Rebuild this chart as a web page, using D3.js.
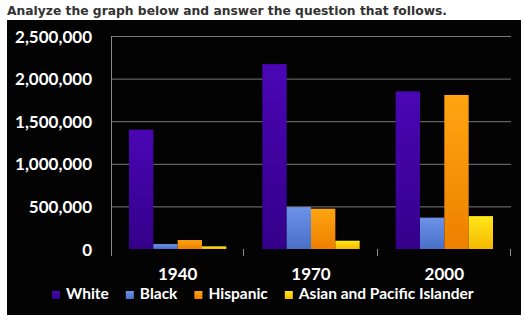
<!DOCTYPE html>
<html>
<head>
<meta charset="utf-8">
<script src="https://cdn.jsdelivr.net/npm/d3@7"></script>
<style>
  html, body { margin: 0; padding: 0; background: #fff; }
  svg { display: block; }
</style>
</head>
<body>
<div id="chart"></div>
<script>
const title = "Analyze the graph below and answer the question that follows.";
const categories = ["1940", "1970", "2000"];
const series = ["White", "Black", "Hispanic", "Asian and Pacific Islander"];
const white = [1400000, 2170000, 1850000];
const black = [58000, 492000, 368000];
const hispanic = [105000, 473000, 1808000];
const asian = [31000, 97000, 386000];
const yTicks = [0, 500000, 1000000, 1500000, 2000000, 2500000];

const values = [white, black, hispanic, asian];
const colors = {
    "White": ["#4a06b4", "#34008a"],
    "Black": ["#6c92ea", "#4a6fc6"],
    "Hispanic": ["#ffa511", "#ee8000"],
    "Asian and Pacific Islander": ["#ffe81a", "#f5b800"]
};

const W = 526, H = 324;
const plot = {left: 111, right: 511, top: 36, bottom: 249};

const svg = d3.select("#chart")
    .append("svg")
    .attr("width", W)
    .attr("height", H);

// gradients for the bars
const defs = svg.append("defs");
series.forEach((s, i) => {
    const g = defs.append("linearGradient")
        .attr("id", "grad" + i)
        .attr("x1", 0).attr("y1", 0).attr("x2", 0).attr("y2", 1);
    g.append("stop").attr("offset", "0%").attr("stop-color", colors[s][0]);
    g.append("stop").attr("offset", "100%").attr("stop-color", colors[s][1]);
});

svg.append("text")
    .attr("x", 7)
    .attr("y", 15)
    .attr("fill", "#333")
    .style("font", "bold 12.3px 'DejaVu Sans', sans-serif")
    .text(title);

svg.append("rect")
    .attr("x", 7).attr("y", 20)
    .attr("width", 514).attr("height", 295)
    .attr("fill", "#030303");

const x = d3.scaleBand()
    .domain(categories)
    .range([plot.left, plot.right]);

const x1 = d3.scaleBand()
    .domain(series)
    .range([0, x.bandwidth()])
    .paddingOuter(0.74);

const y = d3.scaleLinear()
    .domain([0, 2500000])
    .range([plot.bottom, plot.top]);

const fontStyle = "bold 17px Lato, 'Open Sans', sans-serif";
const legendFont = "bold 15.5px Lato, 'Open Sans', sans-serif";

// y axis with gridlines
const yAxis = svg.append("g")
    .attr("transform", `translate(${plot.left},0)`)
    .call(d3.axisLeft(y)
        .tickValues(yTicks)
        .tickFormat(d3.format(","))
        .tickSize(-(plot.right - plot.left))
        .tickSizeOuter(0)
        .tickPadding(19));
yAxis.select(".domain").remove();
yAxis.selectAll(".tick line")
    .attr("stroke", "#7a7a7a")
    .attr("stroke-width", 1)
    .attr("opacity", d => d === 0 ? 0 : 1);
yAxis.selectAll(".tick text")
    .attr("fill", "#fff")
    .attr("dy", "0.36em")
    .style("font", fontStyle);

// vertical axis line
svg.append("line")
    .attr("x1", plot.left + 0.5).attr("x2", plot.left + 0.5)
    .attr("y1", plot.top).attr("y2", plot.bottom + 7)
    .attr("stroke", "#8a8a8a");

// category boundary ticks
const bounds = categories.map(c => x(c)).concat([x(categories[categories.length - 1]) + x.bandwidth()]);
svg.append("g").selectAll("line")
    .data(bounds.slice(1))
    .enter()
    .append("line")
    .attr("x1", d => Math.round(d) - 0.5).attr("x2", d => Math.round(d) - 0.5)
    .attr("y1", plot.bottom).attr("y2", plot.bottom + 7)
    .attr("stroke", "#8a8a8a");

// bars
const groups = svg.append("g").selectAll("g")
    .data(categories)
    .enter()
    .append("g")
    .attr("transform", d => `translate(${x(d)},0)`);

groups.selectAll("rect")
    .data((c, ci) => series.map((s, si) => ({s: s, si: si, v: values[si][ci]})))
    .enter()
    .append("rect")
    .attr("x", d => x1(d.s))
    .attr("y", d => y(d.v))
    .attr("width", x1.bandwidth())
    .attr("height", d => y(0) - y(d.v))
    .attr("fill", d => `url(#grad${d.si})`);

// category labels
const xAxis = svg.append("g")
    .attr("transform", `translate(0,${plot.bottom})`)
    .call(d3.axisBottom(x).tickSize(0).tickPadding(19));
xAxis.select(".domain").remove();
xAxis.selectAll(".tick text")
    .attr("fill", "#fff")
    .style("font", fontStyle);

// legend
const legend = svg.append("g");
let lx = 0;
series.forEach((s, i) => {
    const item = legend.append("g").attr("transform", `translate(${lx},0)`);
    item.append("rect")
        .attr("x", 0).attr("y", -8)
        .attr("width", 8).attr("height", 8)
        .attr("fill", `url(#grad${i})`);
    const t = item.append("text")
        .attr("x", 14).attr("y", 0)
        .attr("fill", "#fff")
        .style("font", legendFont)
        .text(s);
    lx += 14 + t.node().getComputedTextLength() + 17;
});
legend.attr("transform", `translate(52,299)`);
</script>
</body>
</html>
